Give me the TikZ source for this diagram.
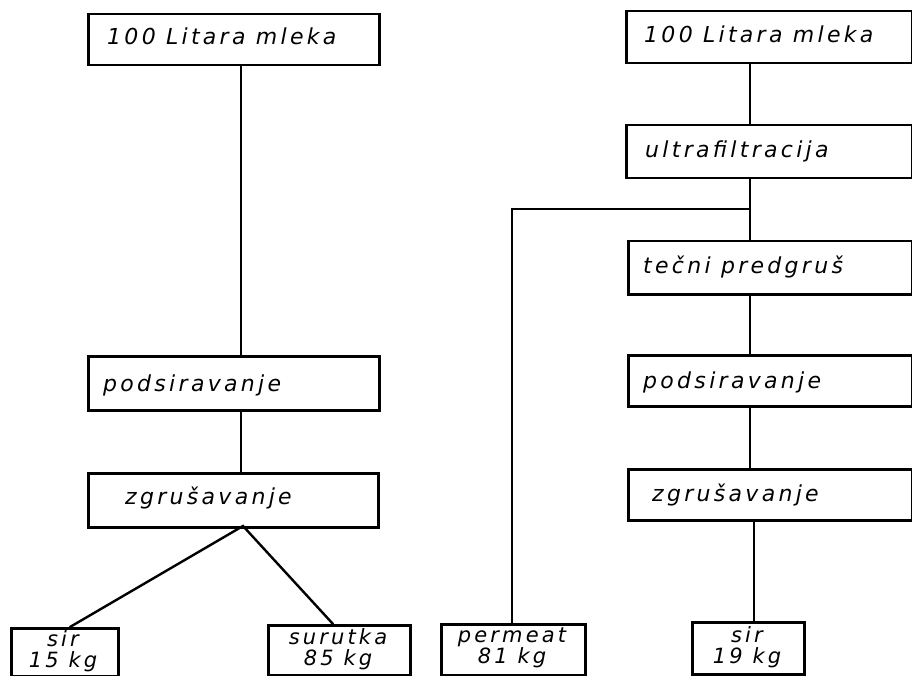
\documentclass[tikz,border=0pt]{standalone}
\usepackage{fontspec}
\setmainfont{DejaVu Sans}[LetterSpace=15]
\begin{document}
\begin{tikzpicture}[x=1pt,y=-1pt,
  box/.style={draw=black,line width=2.5pt,rectangle,inner sep=0pt,anchor=north west},
  txt/.style={font=\fontsize{22}{24}\selectfont\itshape,anchor=base west,inner sep=0pt},
  rtxt/.style={font=\fontsize{21}{20.5}\selectfont\itshape,align=center,inner sep=0pt},
  conn/.style={line width=2.4pt,line cap=round}]
\useasboundingbox (0,0) rectangle (912,676);
% left column
\node[box,minimum width=291pt,minimum height=51pt] (L1) at (87,13) {};
\node[txt] (L1t) at (107,45) {100 Litara mleka};
\node[box,minimum width=291pt,minimum height=54pt] (L2) at (87,355) {};
\node[txt] (L2t) at (103,391) {podsiravanje};
\node[box,minimum width=290pt,minimum height=54pt] (L3) at (87,472) {};
\node[txt] (L3t) at (125,504) {zgrušavanje};
\node[box,minimum width=107pt,minimum height=48pt] (L4) at (10,627) {};
\node[rtxt] (L4t) at (63,651) {sir\\15 kg};
\node[box,minimum width=142pt,minimum height=50pt] (L5) at (267,624) {};
\node[rtxt] (L5t) at (338,649) {surutka\\85 kg};
\coordinate (LX) at (241,0);
\coordinate (Lapex) at (243,526);
\coordinate (Lsir) at (70,627);
\coordinate (Lsur) at (333,624);
\draw[conn] (L1.south -| LX) -- (L2.north -| LX);
\draw[conn] (L2.south -| LX) -- (L3.north -| LX);
\draw[conn] (Lsir) -- (Lapex) -- (Lsur);
% right column
\node[box,minimum width=286pt,minimum height=52pt] (R1) at (625,10) {};
\node[txt] (R1t) at (644,43) {100 Litara mleka};
\node[box,minimum width=286pt,minimum height=53pt] (R2) at (625,124) {};
\node[txt] (R2t) at (645,158) {ultrafiltracija};
\node[box,minimum width=284pt,minimum height=53pt] (R3) at (627,240) {};
\node[txt] (R3t) at (643,273) {tečni predgruš};
\node[box,minimum width=284pt,minimum height=51pt] (R4) at (627,354) {};
\node[txt] (R4t) at (643,388) {podsiravanje};
\node[box,minimum width=284pt,minimum height=51pt] (R5) at (627,468) {};
\node[txt] (R5t) at (652,501) {zgrušavanje};
\node[box,minimum width=112pt,minimum height=52pt] (R6) at (691,621) {};
\node[rtxt] (R6t) at (747,647) {sir\\19 kg};
\node[box,minimum width=144pt,minimum height=51pt] (R7) at (440,623) {};
\node[rtxt] (R7t) at (512,648) {permeat\\81 kg};
\coordinate (RX) at (750,0);
\coordinate (Rbr) at (750,209);
\coordinate (Rpx) at (512,209);
\draw[conn] (R1.south -| RX) -- (R2.north -| RX);
\draw[conn] (R2.south -| RX) -- (R3.north -| RX);
\draw[conn] (R3.south -| RX) -- (R4.north -| RX);
\draw[conn] (R4.south -| RX) -- (R5.north -| RX);
\draw[conn] (R5.south -| 754,0) -- (R6.north -| 754,0);
\draw[conn] (Rbr) -- (Rpx) -- (R7.north -| Rpx);
\end{tikzpicture}
\end{document}
